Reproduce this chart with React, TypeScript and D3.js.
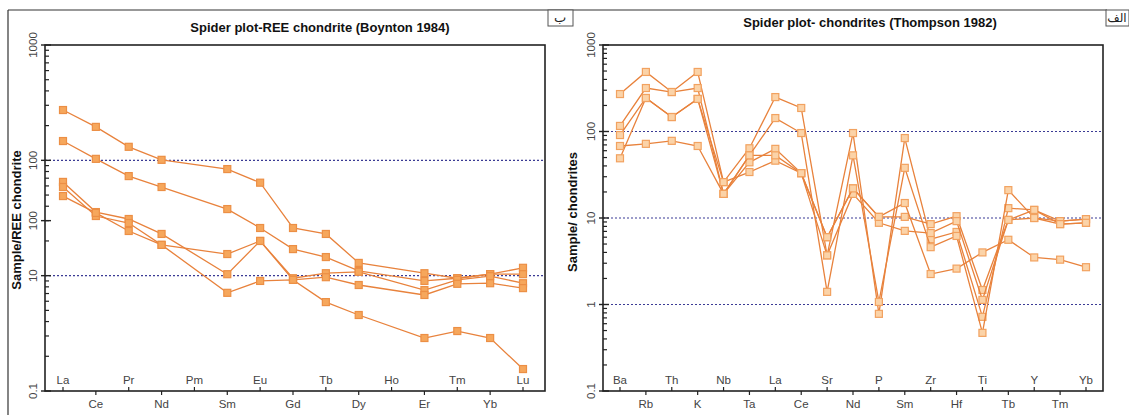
import React from 'react';
import * as d3 from 'd3';

// REE (Boynton 1984) — Pm and Ho not analysed
const reeElements = ['La', 'Ce', 'Pr', 'Nd', 'Pm', 'Sm', 'Eu', 'Gd', 'Tb', 'Dy', 'Ho', 'Er', 'Tm', 'Yb', 'Lu'];
const reeSample1 = [273, 195, 131, 101, null, 84, 64, 25.9, 23, 12.9, null, 10.5, 9.5, 10.3, 11.7];
const reeSample2 = [147, 103, 73, 58.7, null, 37.8, 25.9, 17, 14.5, 11, null, 9.0, 9.5, 10.3, 10.3];
const reeSample3 = [65, 35.6, 31, 23, null, 10.3, 20, 9.5, 10.5, 10.8, null, 7.5, 9.2, 9.9, 8.6];
const reeSample4 = [58.7, 32.9, 28.6, 18.5, null, 15.4, 20, 9.2, 9.7, 8.3, null, 6.8, 8.5, 8.6, 7.8];
const reeSample5 = [49, 35, 24.4, 18.5, null, 7.1, 9.0, 9.2, 5.9, 4.56, null, 2.88, 3.31, 2.88, 1.55];
const reeSeries = [reeSample1, reeSample2, reeSample3, reeSample4, reeSample5];
const reeTickValues = [1000, 100, 30, 10, 1];
const reeTickLabels = ['1000', '100', '100', '10', '0.1'];

// Trace elements (Thompson 1982)
const traceElements = ['Ba', 'Rb', 'Th', 'K', 'Nb', 'Ta', 'La', 'Ce', 'Sr', 'Nd', 'P', 'Sm', 'Zr', 'Hf', 'Ti', 'Tb', 'Y', 'Tm', 'Yb'];
const traceSample1 = [271, 488, 286, 488, 26, 64, 250, 187, 3.7, 96, 0.78, 84, 5.7, 6.9, 0.72, 13, 12.4, 8.5, 8.8];
const traceSample2 = [116, 318, 286, 318, 19, 53, 143, 96, 1.4, 53, 1.07, 38, 4.6, 6.2, 0.47, 21, 10, 9.2, 9.7];
const traceSample3 = [91, 244, 147, 238, 19, 44, 63, 33, 6.0, 22, 10.3, 10.3, 8.5, 10.5, 1.47, 9.5, 12.4, 9.2, 9.7];
const traceSample4 = [49, 244, 147, 238, 26, 34, 46, 33, 3.7, 19, 8.8, 7.1, 6.7, 9.2, 1.13, 9.5, 10, 8.5, 8.8];
const traceSample5 = [68, 72, 78, 68, 19, 53, 53, 33, 6.0, 22, 10.3, 14.9, 2.25, 2.6, 4.0, 5.6, 3.5, 3.3, 2.7];
const traceSeries = [traceSample1, traceSample2, traceSample3, traceSample4, traceSample5];
const traceTickValues = [1000, 100, 10, 1, 0.1];
const traceTickLabels = ['1000', '100', '10', '1', '0.1'];

const lineColor = '#e8823c';
const font = 'Liberation Sans, Arial, sans-serif';

function SpiderPanel({ elements, series, domain, tickValues, tickLabels, dashed, box, title, titleX, titleY, yTitle, yTitleX, yTitleY, filled }) {
  const [x0, x1, y0, y1] = box; // plot frame
  const firstX = x0 + (filled ? 18 : 17);
  const lastX = x1 - (filled ? 22 : 17);
  const x = d3.scalePoint().domain(elements).range([firstX, lastX]);
  const y = d3.scaleLog().domain(domain).range([y1, y0]);

  const line = d3
    .line()
    .x((d) => x(d.el))
    .y((d) => y(d.v));

  // log minor ticks across the domain
  const minor = [];
  for (let e = Math.log10(domain[0]); e < Math.log10(domain[1]); e++) {
    for (let k = 2; k <= 9; k++) minor.push(k * Math.pow(10, e));
  }

  return (
    <g>
      <text x={titleX} y={titleY} textAnchor="middle" fontFamily={font} fontWeight="bold" fontSize={13} fill="#111">
        {title}
      </text>
      <text
        transform={`translate(${yTitleX},${yTitleY}) rotate(-90)`}
        textAnchor="middle"
        fontFamily={font}
        fontWeight="bold"
        fontSize={13}
        fill="#111"
      >
        {yTitle}
      </text>

      {dashed.map((v) => (
        <line key={'d' + v} x1={x0} x2={x1} y1={y(v)} y2={y(v)} stroke="#3b3b95" strokeWidth={1.2} strokeDasharray="2,2" />
      ))}

      {series.map((s, i) => {
        const pts = s.map((v, j) => ({ el: elements[j], v })).filter((d) => d.v != null);
        return (
          <g key={'s' + i}>
            <path d={line(pts)} fill="none" stroke={lineColor} strokeWidth={1.3} />
            {pts.map((d, j) => (
              <rect
                key={j}
                x={x(d.el) - 3.5}
                y={y(d.v) - 3.5}
                width={7}
                height={7}
                fill={filled ? '#f6a75c' : '#fbd3a8'}
                stroke={filled ? '#ec8f45' : '#f2a260'}
                strokeWidth={1.2}
              />
            ))}
          </g>
        );
      })}

      {/* frame */}
      <rect x={x0} y={y0} width={x1 - x0} height={y1 - y0} fill="none" stroke="#222" strokeWidth={1.6} />

      {/* y ticks */}
      {minor.map((v) => (
        <line key={'m' + v} x1={x0} x2={x0 + 4} y1={y(v)} y2={y(v)} stroke="#222" strokeWidth={1.2} />
      ))}
      {tickValues.map((v, i) => (
        <g key={'t' + i}>
          <line x1={x0 - 4} x2={x0 + 6} y1={y(v)} y2={y(v)} stroke="#222" strokeWidth={1.4} />
          <text
            transform={`translate(${x0 - 8},${y(v)}) rotate(-90)`}
            textAnchor="middle"
            fontFamily={font}
            fontSize={11.5}
            fill="#444"
          >
            {tickLabels[i]}
          </text>
        </g>
      ))}

      {/* x categories, alternating inside / outside */}
      {elements.map((el, i) => (
        <g key={el}>
          <line x1={x(el)} x2={x(el)} y1={i % 2 === 0 ? y1 - 4 : y1} y2={i % 2 === 0 ? y1 : y1 + 4} stroke="#222" strokeWidth={1.2} />
          <text
            x={x(el)}
            y={i % 2 === 0 ? y1 - 7 : y1 + 17}
            textAnchor="middle"
            fontFamily={font}
            fontSize={11.5}
            fill="#444"
          >
            {el}
          </text>
        </g>
      ))}
    </g>
  );
}

export default function App() {
  return (
    <svg width={1129} height={415} style={{ position: 'absolute', left: 0, top: 0, background: '#fff' }}>
      <rect x={0} y={0} width={1129} height={415} fill="#fff" />
      {/* page frames */}
      <line x1={8} x2={1107} y1={10} y2={10} stroke="#333" strokeWidth={1.2} />
      <line x1={8} x2={8} y1={10} y2={415} stroke="#333" strokeWidth={1.2} />
      <rect x={548} y={10} width={25} height={16} fill="#fff" stroke="#555" strokeWidth={1} />
      <text x={560} y={22} textAnchor="middle" fontFamily="Noto Sans, DejaVu Sans, sans-serif" fontSize={13} fill="#222">ب</text>
      <rect x={1106} y={10} width={23} height={16} fill="#fff" stroke="#555" strokeWidth={1} />
      <text x={1117} y={22} textAnchor="middle" fontFamily="Noto Sans, DejaVu Sans, sans-serif" fontSize={12} fill="#222">الف</text>

      <SpiderPanel
        elements={reeElements}
        series={reeSeries}
        domain={[1, 1000]}
        tickValues={reeTickValues}
        tickLabels={reeTickLabels}
        dashed={[100, 10]}
        box={[45, 545, 45, 391]}
        title="Spider plot-REE chondrite (Boynton 1984)"
        titleX={320}
        titleY={32}
        yTitle="Sample/REE chondrite"
        yTitleX={21}
        yTitleY={220}
        filled={true}
      />
      <SpiderPanel
        elements={traceElements}
        series={traceSeries}
        domain={[0.1, 1000]}
        tickValues={traceTickValues}
        tickLabels={traceTickLabels}
        dashed={[100, 10, 1]}
        box={[603, 1103, 45, 391]}
        title="Spider plot- chondrites (Thompson 1982)"
        titleX={870}
        titleY={27}
        yTitle="Sample/ chondrites"
        yTitleX={577}
        yTitleY={212}
        filled={false}
      />
    </svg>
  );
}
